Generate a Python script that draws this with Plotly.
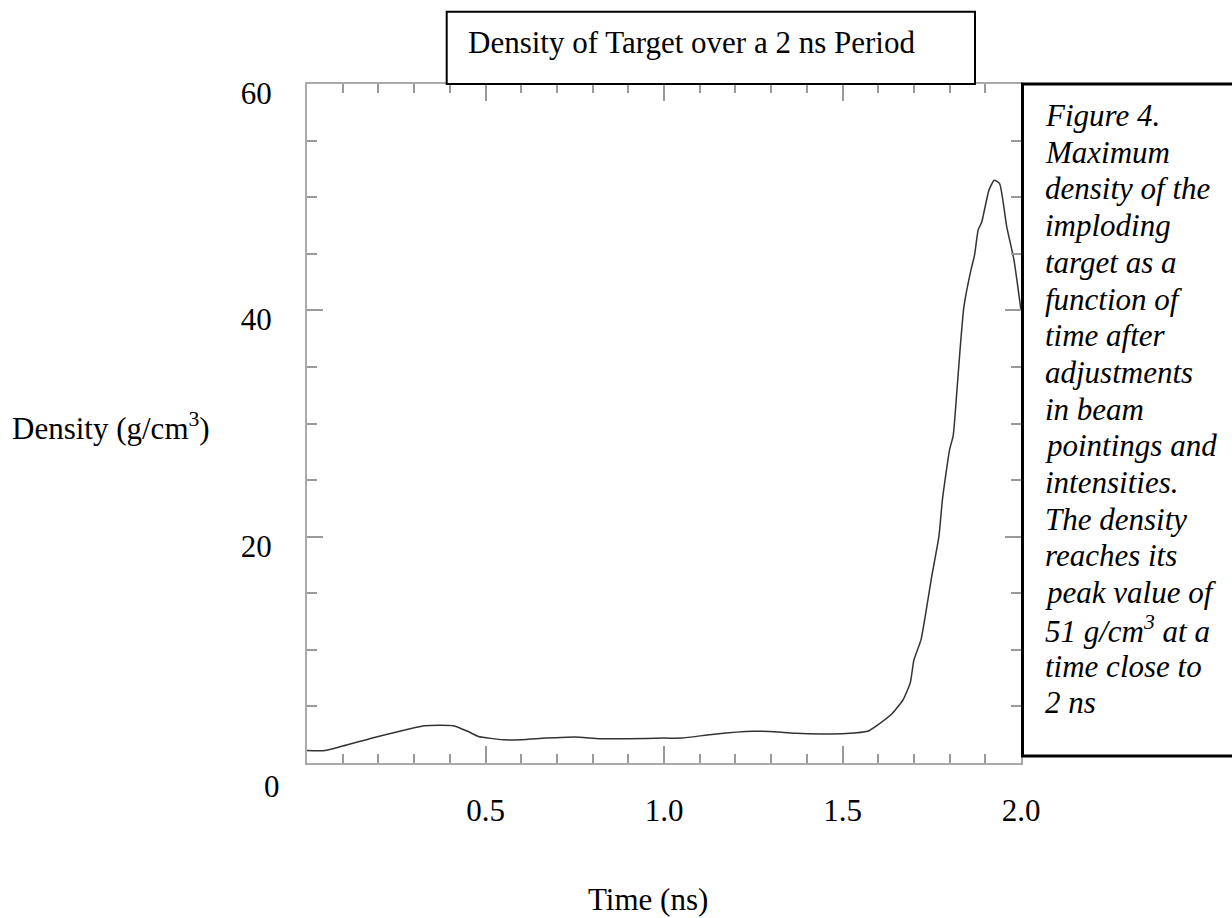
import plotly.graph_objects as go

# ---------------- data ----------------
time_ns = [0.0, 0.05, 0.10, 0.20, 0.33, 0.41, 0.45, 0.48, 0.55, 0.60, 0.67, 0.75,
           0.82, 0.90, 1.00, 1.05, 1.14, 1.25, 1.32, 1.37, 1.44, 1.51, 1.57, 1.60,
           1.64, 1.67, 1.69, 1.70, 1.72, 1.75, 1.77, 1.78, 1.80, 1.81, 1.82, 1.83,
           1.84, 1.86, 1.87, 1.88, 1.89, 1.91, 1.925, 1.94, 1.96, 1.98, 2.0]
density = [1.1, 1.1, 1.5, 2.35, 3.3, 3.3, 2.8, 2.35, 2.05, 2.06, 2.2, 2.3,
           2.15, 2.15, 2.2, 2.2, 2.55, 2.8, 2.75, 2.62, 2.56, 2.6, 2.8, 3.4,
           4.4, 5.6, 7.1, 9.1, 10.9, 16.5, 20.0, 23.3, 27.7, 28.9, 32.7, 36.8,
           40.3, 43.6, 44.9, 47.1, 47.8, 50.6, 51.5, 51.2, 47.4, 44.5, 40.0]

x_tickvals = [0.5, 1.0, 1.5, 2.0]
x_ticktext = ["0.5", "1.0", "1.5", "2.0"]
y_tickvals = [20, 40, 60]
y_ticktext = ["20", "40", "60"]
corner_label = "0"

title_text = "Density of Target over a 2 ns Period"
x_title = "Time (ns)"
y_title = "Density (g/cm<sup>3</sup>)"
caption_lines = [
    "Figure 4.", "Maximum", "density of the", "imploding", "target as a",
    "function of", "time after", "adjustments", "in beam", "pointings and",
    "intensities.", "The density", "reaches its", "peak value of",
    "51 g/cm<sup>3</sup> at a", "time close to", "2 ns",
]

# ---------------- layout geometry ----------------
W, H = 1232, 918
ML, MR, MT, MB = 307, 211, 84, 155
PW, PH = W - ML - MR, H - MT - MB
FONT = "Liberation Serif, Times New Roman, serif"
FS = 31


def px(xp):
    return (xp - ML) / PW


def py(yp):
    return (H - MB - yp) / PH


fig = go.Figure()
fig.add_trace(go.Scatter(
    x=time_ns, y=density, mode="lines",
    line=dict(color="#333333", width=1.5, shape="spline", smoothing=0.5),
    showlegend=False, hoverinfo="skip",
))

axis_common = dict(
    showline=True, linecolor="#aaaaaa", linewidth=2, mirror="ticks",
    ticks="inside", tickcolor="#9a9a9a", tickwidth=1.5,
    showgrid=False, zeroline=False,
    tickfont=dict(family=FONT, size=FS, color="black"),
)

fig.update_xaxes(
    range=[0, 2.0], tickmode="array", tickvals=x_tickvals, ticktext=x_ticktext,
    ticklen=17, ticklabelstandoff=19,
    minor=dict(dtick=0.1, tick0=0, ticks="inside", ticklen=9,
               tickcolor="#9a9a9a", tickwidth=1.5, showgrid=False),
    **axis_common,
)
fig.update_yaxes(
    range=[0, 60], tickmode="array", tickvals=y_tickvals, ticktext=y_ticktext,
    ticklen=16, ticklabelstandoff=27, ticklabelshift=9,
    minor=dict(dtick=5, tick0=0, ticks="inside", ticklen=10,
               tickcolor="#9a9a9a", tickwidth=1.5, showgrid=False),
    **axis_common,
)

shapes = [
    # title box
    dict(type="rect", xref="paper", yref="paper",
         x0=px(446.7), x1=px(975), y0=py(84), y1=py(11.7),
         line=dict(color="black", width=2), fillcolor="white", layer="above"),
    # caption box
    dict(type="rect", xref="paper", yref="paper",
         x0=px(1022.5), x1=px(1245), y0=py(756), y1=py(84),
         line=dict(color="black", width=3), fillcolor="rgba(0,0,0,0)", layer="above"),
]

annotations = [
    dict(text=title_text, xref="paper", yref="paper", x=px(466), y=py(43),
         xanchor="left", yanchor="middle", showarrow=False,
         font=dict(family=FONT, size=FS, color="black")),
    dict(text=y_title, xref="paper", yref="paper", x=px(10), y=py(426),
         xanchor="left", yanchor="middle", showarrow=False,
         font=dict(family=FONT, size=FS, color="black")),
    dict(text=x_title, xref="paper", yref="paper", x=px(648), y=py(899),
         xanchor="center", yanchor="middle", showarrow=False,
         font=dict(family=FONT, size=FS, color="black")),
    dict(text=corner_label, xref="paper", yref="paper", x=px(282), y=py(786),
         xanchor="right", yanchor="middle", showarrow=False,
         font=dict(family=FONT, size=FS, color="black")),
]
for i, line in enumerate(caption_lines):
    annotations.append(dict(
        text="<i>" + line + "</i>", xref="paper", yref="paper",
        x=px(1043), y=py(115.5 + i * 36.7), xanchor="left", yanchor="middle",
        showarrow=False, font=dict(family=FONT, size=FS, color="black"),
    ))

fig.update_layout(
    width=W, height=H,
    margin=dict(l=ML, r=MR, t=MT, b=MB, pad=0),
    paper_bgcolor="white", plot_bgcolor="white",
    shapes=shapes, annotations=annotations,
    showlegend=False,
)

fig.write_html("out.html", include_plotlyjs=True, full_html=True,
               config={"displayModeBar": False})
